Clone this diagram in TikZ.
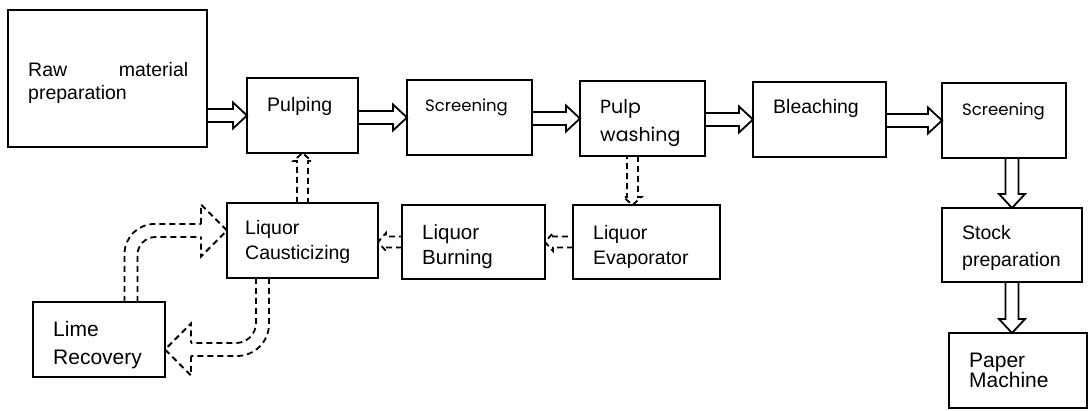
\documentclass[tikz,border=0pt]{standalone}
\usepackage{fontspec}
\setmainfont{Liberation Sans}
\newfontfamily\geofont{Poppins}
\usetikzlibrary{calc,positioning}
\tikzset{
  stage/.style={draw, line width=1.8pt, inner sep=0pt, outer sep=0pt, anchor=north west},
  lbl/.style={anchor=base west, inner sep=0pt, align=left, font=\fontsize{19.5}{25}\selectfont},
  geolbl/.style={lbl, font=\geofont\fontsize{16.5}{28}\selectfont},
  arrshaft/.store in=\arrshaft, arrhead/.store in=\arrhead, arrheadlen/.store in=\arrheadlen,
  arrshaft=6.5pt, arrhead=13pt, arrheadlen=14pt,
  hollow/.style={line width=1.8pt, line join=miter, to path={
    ($(\tikztostart)!\arrshaft!90:(\tikztotarget)$)
    -- ($($(\tikztotarget)!\arrheadlen!(\tikztostart)$)!\arrshaft!90:(\tikztotarget)$)
    -- ($($(\tikztotarget)!\arrheadlen!(\tikztostart)$)!\arrhead!90:(\tikztotarget)$)
    -- (\tikztotarget)
    -- ($($(\tikztotarget)!\arrheadlen!(\tikztostart)$)!\arrhead!-90:(\tikztotarget)$)
    -- ($($(\tikztotarget)!\arrheadlen!(\tikztostart)$)!\arrshaft!-90:(\tikztotarget)$)
    -- ($(\tikztostart)!\arrshaft!-90:(\tikztotarget)$)
  }},
  flow/.style={hollow},
  returnflow/.style={hollow, dash pattern=on 6pt off 4pt, arrshaft=5.5pt, arrhead=9pt, arrheadlen=8pt},
  loophead/.style={hollow, dash pattern=on 6pt off 4pt, arrshaft=6.5pt, arrhead=26pt, arrheadlen=26pt},
  loopline/.style={line width=1.8pt, dash pattern=on 6pt off 4pt}
}
\begin{document}
\begin{tikzpicture}[x=1pt, y=-1pt]
  \useasboundingbox (0,0) rectangle (1088,411);
  % main line
  \node[stage, minimum width=199pt, minimum height=137pt] (raw) at (8,10) {};
  \node[stage, minimum width=111pt, minimum height=75pt] (pulp) at (247,78) {};
  \node[stage, minimum width=125pt, minimum height=75pt] (scr1) at (407,80) {};
  \node[stage, minimum width=125pt, minimum height=75pt] (pw) at (580,81) {};
  \node[stage, minimum width=133pt, minimum height=75pt] (bleach) at (753,82) {};
  \node[stage, minimum width=124pt, minimum height=75pt] (scr2) at (942,83) {};
  \node[stage, minimum width=140pt, minimum height=74pt] (stock) at (942,208) {};
  \node[stage, minimum width=138pt, minimum height=75pt] (paper) at (949,333) {};
  % recovery
  \node[stage, minimum width=132pt, minimum height=75pt] (lime) at (33,302) {};
  \node[stage, minimum width=151pt, minimum height=75pt] (caus) at (227,203) {};
  \node[stage, minimum width=143pt, minimum height=74pt] (burn) at (402,205) {};
  \node[stage, minimum width=147pt, minimum height=74pt] (evap) at (573,205) {};

  \node[lbl, text width=160pt, font=\fontsize{19.5}{23}\selectfont] (rawt) at (28,77) {Raw\hfill material\\preparation};
  \node[lbl] (pulpt) at (267,112) {Pulping};
  \node[geolbl] (scr1t) at (425,112) {Screening};
  \node[geolbl, font=\geofont\fontsize{19}{28}\selectfont] (pwt) at (600,142) {Pulp\\washing};
  \node[lbl] (bleacht) at (773,114) {Bleaching};
  \node[geolbl] (scr2t) at (962,116) {Screening};
  \node[lbl, font=\fontsize{19.5}{27}\selectfont] (stockt) at (962,267) {Stock\\preparation};
  \node[lbl, font=\fontsize{21}{20}\selectfont] (papert) at (969,388) {Paper\\Machine};
  \node[lbl, font=\fontsize{21}{28}\selectfont] (limet) at (53,365) {Lime\\Recovery};
  \node[lbl] (caust) at (245,260) {Liquor\\Causticizing};
  \node[lbl, font=\fontsize{20.5}{25}\selectfont] (burnt) at (422,265) {Liquor\\Burning};
  \node[lbl] (evapt) at (593,265) {Liquor\\Evaporator};

  \foreach \a/\b in {raw/pulp, pulp/scr1, scr1/pw, pw/bleach, bleach/scr2}
    {\draw[flow] (\a.east |- \b.west) to (\b.west);}
  \coordinate (stocktop) at (scr2.south -| stock.north);
  \coordinate (papertop) at (stock.south |- paper.north);
  \draw[flow] (stocktop) to (stock.north);
  \draw[flow] (stock.south) to (papertop);

  \draw[returnflow] ($(pw.south)+(-10,0)$) to ($(pw.south |- evap.north)+(-10,0)$);
  \draw[returnflow] (evap.west) to (burn.east);
  \draw[returnflow] (burn.west) to (caus.east |- burn.west);
  \draw[returnflow] (caus.north) to (pulp.south);

  % lime loop
  \draw[loopline, rounded corners=30pt] ([xshift=25.5pt]lime.north) |- ([xshift=-26pt,yshift=16.5pt]caus.west);
  \draw[loopline, rounded corners=18pt] ([xshift=38.5pt]lime.north) |- ([xshift=-26pt,yshift=3.5pt]caus.west);
  \draw[loophead] ([xshift=-26pt,yshift=10pt]caus.west) to ([yshift=10pt]caus.west);
  \draw[loopline, rounded corners=32pt] ([xshift=-33.5pt]caus.south) |- ([xshift=26pt,yshift=-16.5pt]lime.east);
  \draw[loopline, rounded corners=20pt] ([xshift=-46.5pt]caus.south) |- ([xshift=26pt,yshift=-3.5pt]lime.east);
  \draw[loophead] ([xshift=26pt,yshift=-10pt]lime.east) to ([yshift=-10pt]lime.east);
\end{tikzpicture}
\end{document}
